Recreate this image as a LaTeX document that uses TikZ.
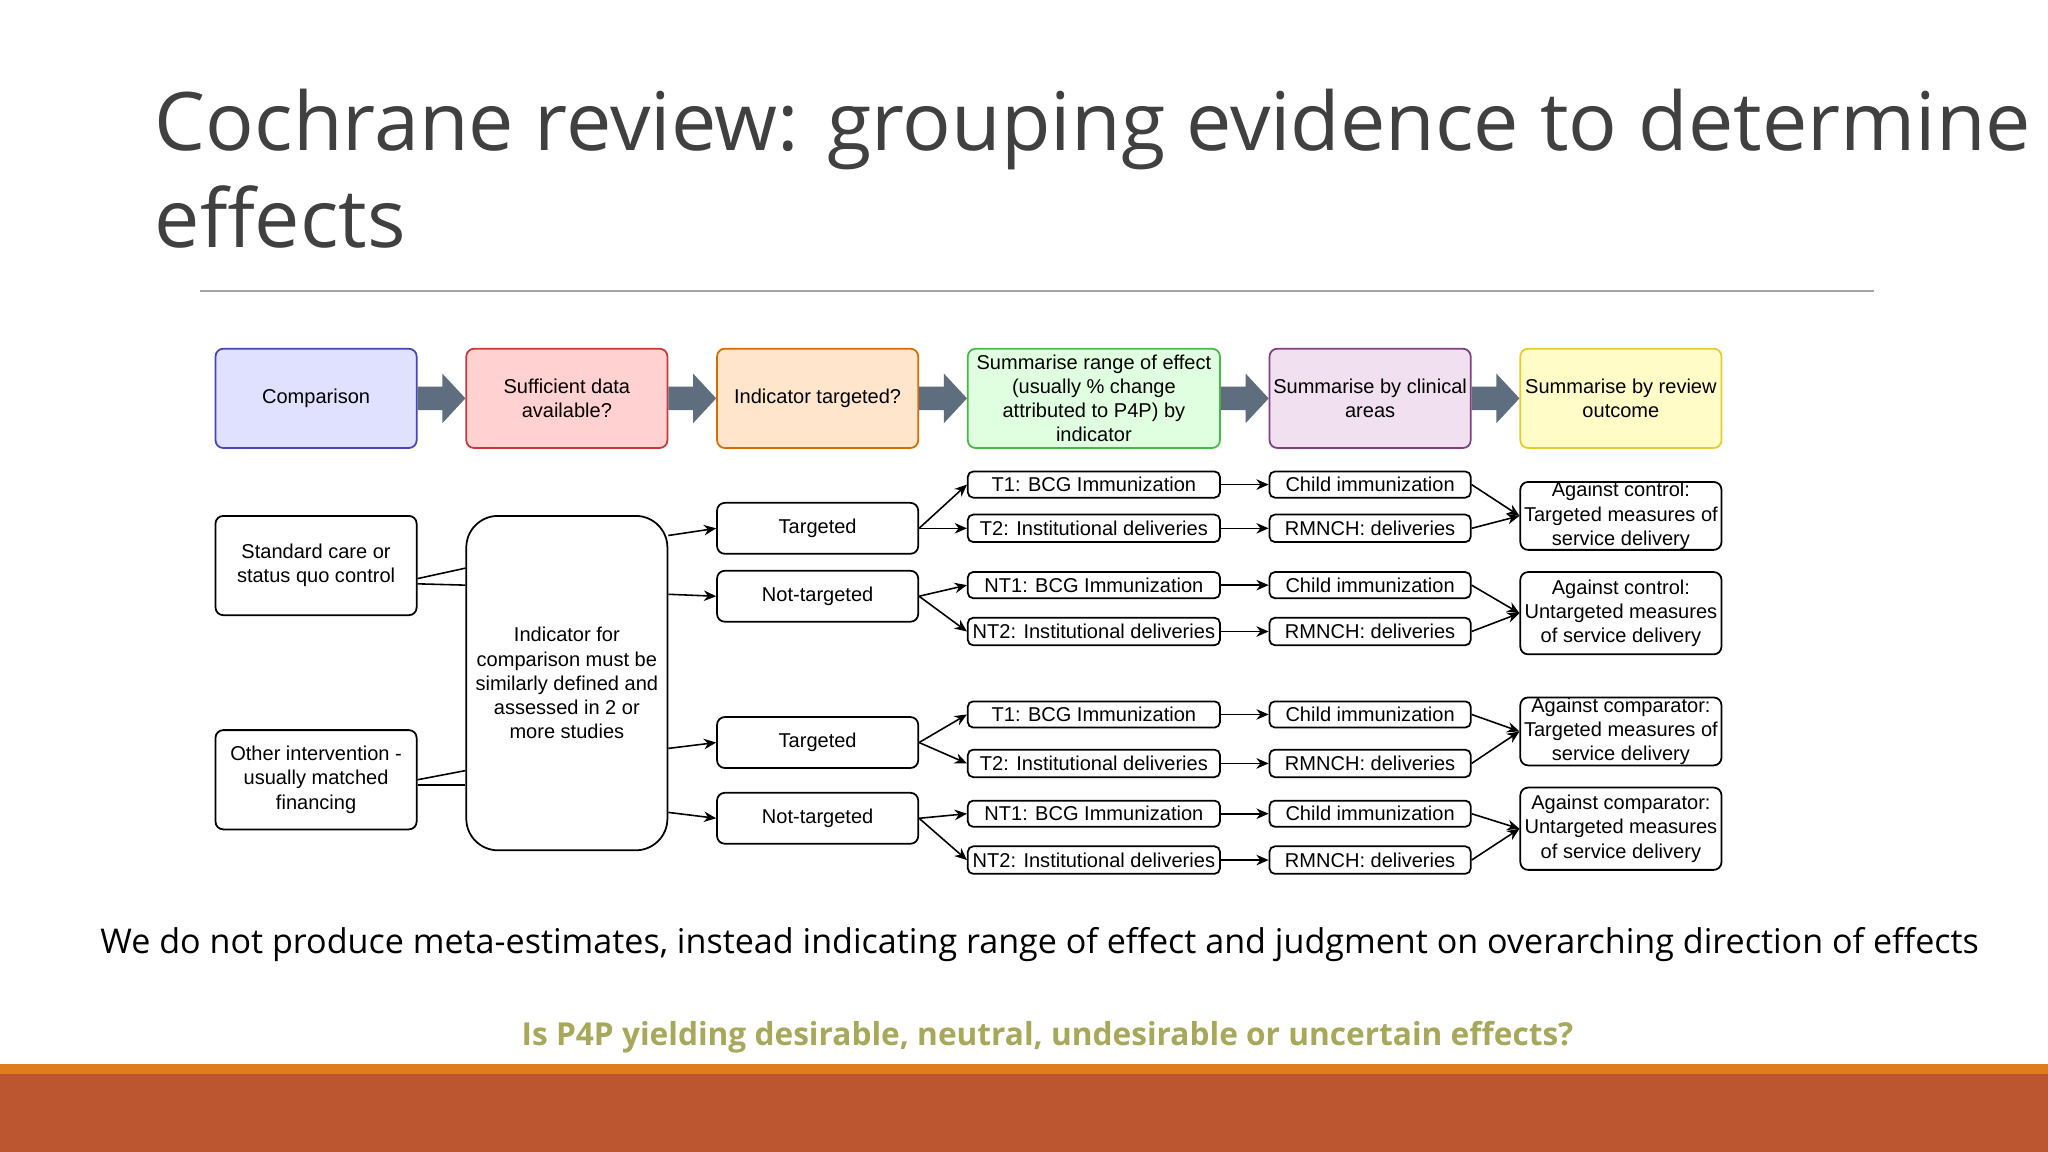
\documentclass[tikz,border=0pt]{standalone}
\usepackage{fontspec}
\usetikzlibrary{calc,arrows.meta}
\setmainfont{Liberation Sans}
\newfontfamily\osans{Open Sans}
\definecolor{ttl}{HTML}{404040}
\definecolor{blk}{HTML}{5E6E7E}
\definecolor{olv}{HTML}{A8A85A}
\definecolor{orl}{HTML}{E07B20}
\definecolor{ord}{HTML}{BC5630}
\begin{document}
\begin{tikzpicture}[x=0.01306cm,y=-0.01306cm,
  bx/.style={draw,rounded corners=2.2pt,line width=0.5pt,inner sep=0pt,align=center,font=\fontsize{5.7}{6.9}\selectfont},
  arr/.style={-{Stealth[length=3.5pt,width=3pt]},line width=0.45pt},
  ln/.style={line width=0.45pt},
  ba/.style={fill=blk,draw=none}]
\useasboundingbox (0,0) rectangle (1568,882);
\fill[white] (0,0) rectangle (1568,882);
\def\u{0.01306cm}
\newcommand\B[7]{\node[#2,minimum width={(#5-#3)*\u},minimum height={(#6-#4)*\u}] (#1) at ({(#3+#5)/2},{(#4+#6)/2}) {#7};}
% title
\node[anchor=north west,inner sep=0pt,align=left,text=ttl,font=\osans\fontsize{23}{27.5}\selectfont] (title) at (118,68) {Cochrane review: grouping evidence to determine\\effects};
\draw[gray!70,line width=0.6pt] (153,223) -- (1435,223);
% top row
\B{c1}{bx,fill=blue!12,draw=blue!45!gray}{165}{267}{319}{343}{Comparison}
\B{c2}{bx,fill=red!18,draw=red!55!gray}{357}{267}{511}{343}{Sufficient data\\available?}
\B{c3}{bx,fill=orange!20,draw=orange!85!black}{549}{267}{703}{343}{Indicator targeted?}
\B{c4}{bx,fill=green!12,draw=green!45!gray}{741}{267}{934}{343}{Summarise range of effect\\(usually \% change\\attributed to P4P) by\\indicator}
\B{c5}{bx,fill=violet!12,draw=violet!50!gray}{972}{267}{1126}{343}{Summarise by clinical\\areas}
\B{c6}{bx,fill=yellow!22,draw=yellow!60!brown}{1164}{267}{1318}{343}{Summarise by review\\outcome}
\foreach \a/\b in {c1/c2,c2/c3,c3/c4,c4/c5,c5/c6}{
  \fill[ba] (\a.east) ++(0,-9) -- ++(19,0) -- ++(0,-10) -- (\b.west) -- ($(\a.east)+(19,19)$) -- ++(0,-10) -- ++(-19,0) -- cycle;}
% left
\B{sc}{bx}{165}{395}{319}{471}{Standard care or\\status quo control}
\B{oi}{bx}{165}{559}{319}{635}{Other intervention -\\usually matched\\financing}
\node[bx,rounded corners=9pt,minimum width={154*\u},minimum height={256*\u}] (big) at (434,523) {Indicator for\\comparison must be\\similarly defined and\\assessed in 2 or\\more studies};
\draw[ln] (sc.east |- 0,443) -- (big.west |- 0,435);
\draw[ln] (sc.east |- 0,447) -- (big.west |- 0,448);
\draw[ln] (oi.east |- 0,597) -- (big.west |- 0,590);
\draw[ln] (oi.east |- 0,601) -- (big.west |- 0,601);
% level 3
\B{ta}{bx}{549}{385}{703}{424}{Targeted}
\B{na}{bx}{549}{437}{703}{476}{Not-targeted}
\B{tb}{bx}{549}{549}{703}{588}{Targeted}
\B{nb}{bx}{549}{607}{703}{646}{Not-targeted}
\draw[arr] (big.east |- 0,410) -- (ta.west);
\draw[arr] (big.east |- 0,455) -- (na.west);
\draw[arr] (big.east |- 0,573) -- (tb.west);
\draw[arr] (big.east |- 0,622) -- (nb.west);
% level 4/5/6
\newcommand\grp[9]{%
 \B{#1a}{bx,rounded corners=1.5pt}{741}{#2}{934}{#2+20}{#4}
 \B{#1b}{bx,rounded corners=1.5pt}{741}{#3}{934}{#3+21}{#5}
 \B{#1c}{bx,rounded corners=1.5pt}{972}{#2}{1126}{#2+20}{Child immunization}
 \B{#1d}{bx,rounded corners=1.5pt}{972}{#3}{1126}{#3+21}{RMNCH: deliveries}
 \B{#1e}{bx}{1164}{#6}{1318}{#7}{#8}
 \draw[arr] (#9.east) -- (#1a.west);
 \draw[arr] (#9.east) -- (#1b.west);
 \draw[arr] (#1a.east) -- (#1c.west);
 \draw[arr] (#1b.east) -- (#1d.west);
 \draw[arr] (#1c.east) -- (#1e.west);
 \draw[arr] (#1d.east) -- (#1e.west);}
\grp{g}{361}{394}{T1: BCG Immunization}{T2: Institutional deliveries}{369}{421}{Against control:\\Targeted measures of\\service delivery}{ta}
\grp{h}{438}{473}{NT1: BCG Immunization}{NT2: Institutional deliveries}{438}{501}{Against control:\\Untargeted measures\\of service delivery}{na}
\grp{i}{537}{574}{T1: BCG Immunization}{T2: Institutional deliveries}{534}{586}{Against comparator:\\Targeted measures of\\service delivery}{tb}
\grp{j}{613}{648}{NT1: BCG Immunization}{NT2: Institutional deliveries}{603}{666}{Against comparator:\\Untargeted measures\\of service delivery}{nb}
% bottom
\node[font=\osans\fontsize{9.7}{12}\selectfont] (t1) at (796,723) {We do not produce meta-estimates, instead indicating range of effect and judgment on overarching direction of effects};
\node[font=\osans\bfseries\fontsize{9}{11}\selectfont,text=olv] (t2) at (802,794) {Is P4P yielding desirable, neutral, undesirable or uncertain effects?};
\fill[orl] (0,815) rectangle (1568,823);
\fill[ord] (0,822) rectangle (1568,882);
\end{tikzpicture}
\end{document}
